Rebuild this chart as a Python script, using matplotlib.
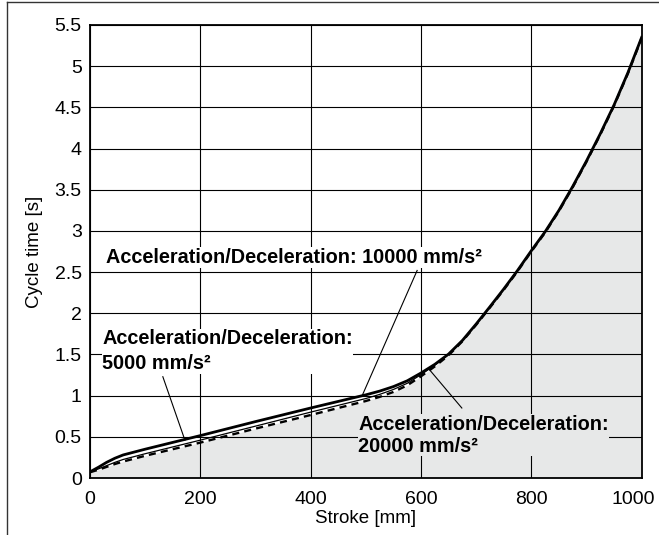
import matplotlib
matplotlib.use("Agg")
import matplotlib.pyplot as plt
import matplotlib.transforms as mtransforms
from matplotlib.lines import Line2D

plt.rcParams['font.family'] = ['Liberation Sans', 'DejaVu Sans']

stroke = [0, 15, 30, 45, 60, 80, 100, 200, 300, 400, 500, 525, 550, 575, 600, 625, 650, 675, 700, 725,
          750, 775, 800, 825, 850, 875, 900, 925, 950, 975, 1000]
t_5000 = [0.075, 0.13, 0.19, 0.24, 0.28, 0.315, 0.35, 0.515, 0.685, 0.85, 1.01, 1.055, 1.11, 1.18, 1.275,
          1.38, 1.505, 1.67, 1.87, 2.08, 2.295, 2.52, 2.76, 2.99, 3.25, 3.54, 3.85, 4.18, 4.53, 4.92, 5.35]
t_10000 = [0.075, 0.11, 0.15, 0.19, 0.225, 0.26, 0.295, 0.46, 0.63, 0.80, 0.965, 1.015, 1.075, 1.15, 1.255,
           1.37, 1.50, 1.665, 1.865, 2.075, 2.29, 2.515, 2.755, 2.985, 3.245, 3.535, 3.845, 4.175, 4.525, 4.915, 5.345]
t_20000 = [0.07, 0.10, 0.135, 0.17, 0.20, 0.235, 0.27, 0.43, 0.60, 0.765, 0.935, 0.985, 1.045, 1.125, 1.235,
           1.355, 1.49, 1.66, 1.86, 2.07, 2.285, 2.51, 2.75, 2.98, 3.24, 3.53, 3.84, 4.17, 4.52, 4.91, 5.34]

x_ticks = [0, 200, 400, 600, 800, 1000]
y_ticks = [0, 0.5, 1, 1.5, 2, 2.5, 3, 3.5, 4, 4.5, 5, 5.5]
y_tick_labels = ["0", "0.5", "1", "1.5", "2", "2.5", "3", "3.5", "4", "4.5", "5", "5.5"]

label_10000 = "Acceleration/Deceleration: 10000 mm/s²"
label_5000 = "Acceleration/Deceleration:\n5000 mm/s²"
label_20000 = "Acceleration/Deceleration:\n20000 mm/s²"

fill_color = "#e7e8e8"

fig = plt.figure(figsize=(6.59, 5.35), dpi=100)
ax = fig.add_axes([0.1366, 0.1065, 0.8371, 0.8468])

ax.fill_between(stroke, 0, t_20000, color=fill_color, lw=0, zorder=1)
ax.plot(stroke, t_20000, color="black", lw=1.7, ls=(0, (3, 2.2)), zorder=2)
ax.plot(stroke, t_10000, color="black", lw=0.9, zorder=2.1)
ax.plot(stroke, t_5000, color="black", lw=2.0, zorder=2.2)

ax.set_xlim(0, 1000)
ax.set_ylim(0, 5.5)
ax.set_xticks(x_ticks)
ax.set_xticklabels([str(v) for v in x_ticks])
ax.set_yticks(y_ticks)
ax.set_yticklabels(y_tick_labels)
ax.grid(True, color="black", lw=0.8)
ax.tick_params(length=0, labelsize=14, pad=6)
ax.tick_params(axis='x', pad=9)
for s in ax.spines.values():
    s.set_linewidth(1.3)

# last x tick label sits slightly left, as in the reference
last = ax.get_xticklabels()[-1]
last.set_transform(last.get_transform() + mtransforms.ScaledTranslation(-8 / 100, 0, fig.dpi_scale_trans))

ax.set_xlabel("Stroke [mm]", fontsize=13.5, labelpad=2)
ax.set_ylabel("Cycle time [s]", fontsize=13.5, labelpad=8)

# leaders
leaders = [((132, 1.23), (172, 0.46)),
           ((593, 2.52), (493, 0.995)),
           ((674, 0.85), (616, 1.31))]
for (xs, ys), (xe, ye) in leaders:
    ax.plot([xs, xe], [ys, ye], color="black", lw=0.8, zorder=2.5)

tkw = dict(fontsize=14.3, fontweight="bold", zorder=4)
ax.text(29, 2.61, label_10000, ha="left", va="baseline",
        bbox=dict(facecolor="white", edgecolor="none", pad=0.5), **tkw)
ax.text(22, 1.32, label_5000, ha="left", va="baseline", linespacing=1.4,
        bbox=dict(facecolor="white", edgecolor="none", pad=0.5), **tkw)
ax.text(486, 0.32, label_20000, ha="left", va="baseline", linespacing=1.2,
        bbox=dict(facecolor=fill_color, edgecolor="none", pad=0.5), **tkw)

fig.add_artist(Line2D([6.5 / 659, 6.5 / 659], [0, 1 - 2 / 535], transform=fig.transFigure, color="#333333", lw=1))
fig.add_artist(Line2D([6.5 / 659, 1], [1 - 2 / 535, 1 - 2 / 535], transform=fig.transFigure, color="#333333", lw=1))

fig.savefig("out.png", dpi=100)
